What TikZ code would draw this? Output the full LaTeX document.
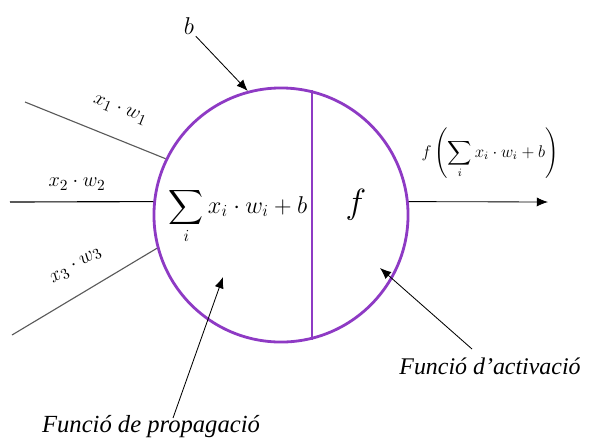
\documentclass[tikz,border=0pt]{standalone}
\usepackage{amsmath}
\usepackage{fontspec}
\setmainfont{Liberation Serif}
\usepackage{xcolor}
\usepackage{tikz}
\usetikzlibrary{
  arrows.meta,
  positioning,
  calc
}
\definecolor{nrpurple}{HTML}{8E3AC4}
\definecolor{nrgray}  {HTML}{5A5A5A}

\begin{document}
\begin{tikzpicture}[
  x=0.025cm, y=-0.025cm,
  every node/.style={inner sep=1pt},
  neuron/.style={circle, draw=nrpurple, line width=2pt, minimum size=6.35cm},
  wire/.style={draw=nrgray, line width=0.8pt},
  arr/.style={-{Latex[length=8pt,width=6.5pt]}, line width=0.6pt},
  lbl/.style={font=\fontsize{15}{17}\selectfont},
  caption/.style={font=\fontsize{17}{20}\selectfont\itshape},
]
\useasboundingbox (0,0) rectangle (590,443);

\node[neuron](nrn) at (281,215) {};
\draw[nrpurple, line width=2pt](nrn.76)--(nrn.-76);

% inputs
\coordinate(in1) at (25,102);
\coordinate(in2) at (10,202);
\coordinate(in3) at (12,335);
\draw[wire](in1)--(nrn.154);
\draw[wire, draw=black](in2)--(nrn.174);
\draw[wire](in3)--(nrn.195);
\node[lbl, rotate=-22](w1) at (120,110) {$x_1\cdot w_1$};
\node[lbl](w2) at (77,184) {$x_2\cdot w_2$};
\node[lbl, rotate=31](w3) at (76,266) {$x_3\cdot w_3$};

% bias
\node[font=\fontsize{19}{21}\selectfont](bias) at (189,26) {$b$};
\draw[arr](bias.south east)--(nrn.105);

% inside
\node[font=\fontsize{17}{20}\selectfont](sum) at (238,216)
  {$\displaystyle\sum_i x_i\cdot w_i+b$};
\node[font=\fontsize{26}{28}\selectfont](act) at (356,205) {$f$};

% output
\coordinate(out) at (548,202);
\draw[arr](nrn.6)--(out);
\node[font=\fontsize{12}{14}\selectfont](res) at (490,153)
  {$f\left(\displaystyle\sum_i x_i\cdot w_i+b\right)$};

% captions
\node[caption](capA) at (490,366) {Funció d’activació};
\coordinate(srcA) at (472,349);
\coordinate(tipA) at (380,268);
\draw[arr](srcA)--(tipA);
\node[caption, font=\fontsize{17.5}{20}\selectfont\itshape](capP) at (151,427) {Funció de propagació};
\coordinate(srcP) at (173,418);
\coordinate(tipP) at (223,277);
\draw[arr](srcP)--(tipP);
\end{tikzpicture}
\end{document}
